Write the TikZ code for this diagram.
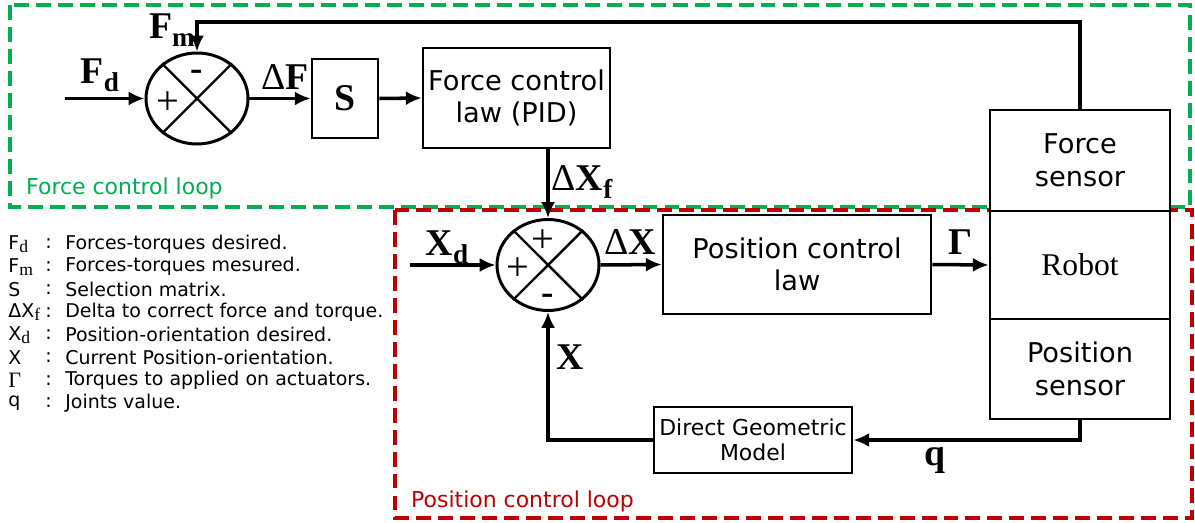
\documentclass[tikz,border=0pt]{standalone}
\usepackage{fontspec}
\setmainfont{DejaVu Sans}
\newfontfamily\lbl{Liberation Serif}
\usetikzlibrary{positioning, arrows.meta, shapes.geometric, calc}
\definecolor{loopGreen}{RGB}{0, 176, 80}
\definecolor{loopRed}{RGB}{192, 0, 0}
\newcommand{\sigsub}[1]{\raisebox{-0.45ex}{\scalebox{0.72}{#1}}}
\tikzset{
  block/.style={
    draw=black,
    line width=1.5pt,
    fill=white,
    align=center,
    inner sep=2pt,
    font=\fontsize{15.5}{18.5}\selectfont
  },
  sumNode/.style={
    draw=black,
    ellipse,
    line width=1.7pt,
    minimum width=2.04cm,
    minimum height=1.82cm,
    inner sep=0pt
  },
  flow/.style={
    -{Latex[length=9pt, width=8pt]},
    line width=2pt
  },
  sigLabel/.style={
    font=\fontsize{21.5}{24}\selectfont\lbl\bfseries
  },
  signMark/.style={
    font=\fontsize{23}{24}\selectfont\lbl
  },
  loopBox/.style={
    line width=2pt,
    dash pattern=on 8.5pt off 4pt
  },
  legendText/.style={
    anchor=west,
    inner sep=0pt,
    font=\fontsize{10.8}{12}\selectfont
  }
}

\begin{document}
\begin{tikzpicture}[x=0.02cm, y=-0.02cm]
  \useasboundingbox (0,0) rectangle (1195,523);

  % Loop frames
  \draw[loopBox, draw=loopGreen] (10,5) rectangle (1190,207);
  \draw[loopBox, draw=loopRed] (395,210) rectangle (1192,518);
  \node[anchor=west, text=loopGreen, font=\fontsize{12.5}{14}\selectfont] (fclabel) at (20,188) {Force control loop};
  \node[anchor=west, text=loopRed, font=\fontsize{12.5}{14}\selectfont] (pclabel) at (405,501) {Position control loop};

  % Blocks
  \node[block, minimum width=1.32cm, minimum height=1.58cm, font=\fontsize{21.5}{24}\selectfont\lbl\bfseries] (sel) at (345,98.5) {S};
  \node[block, minimum width=3.74cm, minimum height=2cm] (flaw) at (516.5,98) {Force control\\law (PID)};
  \node[block, minimum width=5.36cm, minimum height=1.98cm] (plaw) at (797,264.5) {Position control\\law};
  \node[block, minimum width=3.96cm, minimum height=1.32cm, font=\fontsize{12.5}{14}\selectfont] (dgm) at (753,440) {Direct Geometric\\Model};
  \node[block, minimum width=3.6cm, minimum height=2.02cm] (fsens) at (1080,160.5) {Force\\sensor};
  \node[block, minimum width=3.6cm, minimum height=2.16cm, font=\fontsize{18}{20}\selectfont\lbl] (robot) at (1080,265) {Robot};
  \node[block, minimum width=3.6cm, minimum height=2cm] (psens) at (1080,369) {Position\\sensor};

  % Summing junctions
  \node[sumNode] (sum1) at (197,98.5) {};
  \draw[line width=1.4pt] (sum1.45) -- (sum1.225) (sum1.135) -- (sum1.315);
  \node[signMark] (s1plus) at (168,103) {+};
  \node[signMark, font=\fontsize{21}{22}\selectfont\lbl\bfseries] (s1minus) at (197,75) {-};

  \node[sumNode] (sum2) at (548,265) {};
  \draw[line width=1.4pt] (sum2.45) -- (sum2.225) (sum2.135) -- (sum2.315);
  \node[signMark] (s2top) at (543,241) {+};
  \node[signMark] (s2left) at (518,269) {+};
  \node[signMark, font=\fontsize{21}{22}\selectfont\lbl\bfseries] (s2minus) at (548,299) {-};

  % Inputs
  \coordinate (fdin) at (65,98.5);
  \coordinate (xdin) at (410,265);
  \coordinate (fmtop) at (197,22);

  % Connectors
  \draw[flow] (fdin) -- (sum1.west);
  \draw[flow] (sum1.east) -- (sel.west);
  \draw[flow] (sel.east) -- (flaw.west);
  \draw[flow] (flaw.south -| sum2) -- (sum2.north);
  \draw[flow] (xdin) -- (sum2.west);
  \draw[flow] (sum2.east) -- (plaw.west);
  \draw[flow] (plaw.east) -- (robot.west);
  \draw[flow] (fsens.north) -- (fsens.north |- fmtop) -| (sum1.north);
  \draw[flow] (psens.south) |- (dgm.east);
  \draw[flow] (dgm.west) -| (sum2.south);

  % Signal labels
  \node[sigLabel] (fdlab) at (100,75) {F\sigsub{d}};
  \node[sigLabel] (fmlab) at (172,30) {F\sigsub{m}};
  \node[sigLabel] (dflab) at (285,77) {{\mdseries Δ}F};
  \node[sigLabel] (dxflab) at (582,182) {{\mdseries Δ}X\sigsub{f}};
  \node[sigLabel] (xdlab) at (447,247) {X\sigsub{d}};
  \node[sigLabel] (dxlab) at (630,242) {{\mdseries Δ}X};
  \node[sigLabel] (gamlab) at (960,242) {Γ};
  \node[sigLabel] (xlab) at (570,357) {X};
  \node[sigLabel] (qlab) at (935,460) {q};

  % Legend
  \foreach \sym/\txt [count=\i] in {
      {F\raisebox{-0.3ex}{\lbl\fontsize{10}{10}\selectfont d}}/{Forces-torques desired.},
      {F\raisebox{-0.3ex}{\lbl\fontsize{10}{10}\selectfont m}}/{Forces-torques mesured.},
      {S}/{Selection matrix.},
      {ΔX\raisebox{-0.3ex}{\lbl\fontsize{10}{10}\selectfont f}}/{Delta to correct force and torque.},
      {X\raisebox{-0.3ex}{\lbl\fontsize{10}{10}\selectfont d}}/{Position-orientation desired.},
      {X}/{Current Position-orientation.},
      {{\lbl\fontsize{12.5}{13}\selectfont Γ}}/{Torques to applied on actuators.},
      {q}/{Joints value.}} {
    \node[legendText] (legsym\i) at (8,{244+22.7*(\i-1)}) {\sym};
    \node[legendText] (legcol\i) at (45,{244+22.7*(\i-1)}) {:};
    \node[legendText] (legtxt\i) at (65,{244+22.7*(\i-1)}) {\txt};
  }
\end{tikzpicture}
\end{document}
